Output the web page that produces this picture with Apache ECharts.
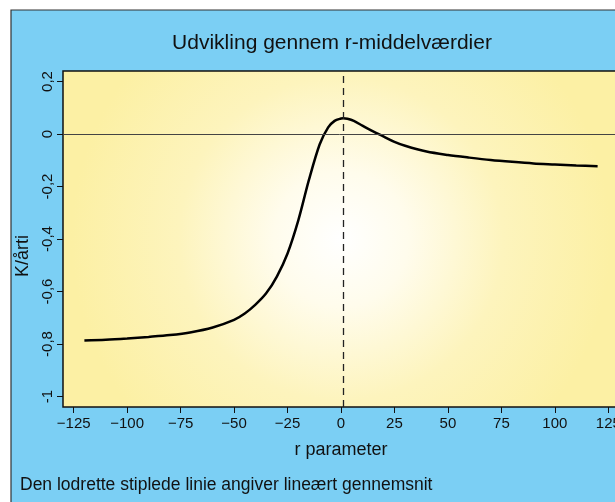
<!DOCTYPE html>
<html>
<head>
<meta charset="utf-8">
<style>
  html, body { margin: 0; padding: 0; background: #fff; }
  #chart { width: 615px; height: 502px; }
</style>
<script src="https://cdn.jsdelivr.net/npm/echarts@6/dist/echarts.min.js"></script>
</head>
<body>
<div id="chart"></div>
<script>
// r-values and K/årti
const rValues = [-120, -110, -100, -90, -80, -70, -60, -50, -45, -40, -35, -30, -25, -20, -15, -10, -6, -3, 0, 1, 3, 6, 10, 15, 20, 25, 30, 40, 50, 60, 70, 80, 90, 100, 110, 120]
const kValues = [-0.787, -0.784, -0.779, -0.773, -0.766, -0.755, -0.737, -0.708, -0.684, -0.65, -0.607, -0.543, -0.455, -0.33, -0.175, -0.04, 0.025, 0.05, 0.059, 0.06, 0.058, 0.05, 0.032, 0.01, -0.01, -0.03, -0.045, -0.067, -0.08, -0.09, -0.099, -0.106, -0.112, -0.116, -0.12, -0.123]
const xTicks = [-125, -100, -75, -50, -25, 0, 25, 50, 75, 100, 125]
const yTicks = [-1, -0.8, -0.6, -0.4, -0.2, 0, 0.2]
const meanR = 1

const font = 'Liberation Sans, Arial, sans-serif'
const chart = echarts.init(document.getElementById('chart'))

chart.setOption({
  animation: false,
  graphic: [
    {
      type: 'rect',
      z: -10,
      shape: { x: 11, y: 10, width: 620, height: 500 },
      style: { fill: '#7bcff4', stroke: '#333', lineWidth: 1.2 }
    },
    {
      type: 'text',
      left: 20,
      top: 476,
      style: {
        text: 'Den lodrette stiplede linie angiver lineært gennemsnit',
        font: '17.5px ' + font,
        fill: '#111'
      }
    }
  ],
  title: {
    text: 'Udvikling gennem r-middelværdier',
    left: 327,
    top: 28,
    textAlign: 'center',
    textStyle: { fontFamily: font, fontSize: 21, fontWeight: 'normal', color: '#111' }
  },
  grid: {
    left: 63,
    top: 71,
    right: -4,
    bottom: 95,
    containLabel: false,
    outerBoundsMode: 'none',
    show: true,
    borderColor: '#111',
    borderWidth: 1.5,
    backgroundColor: {
      type: 'radial',
      x: 0.5,
      y: 0.5,
      r: 0.8,
      colorStops: [
        { offset: 0, color: '#ffffff' },
        { offset: 0.25, color: '#fffcec' },
        { offset: 0.6, color: '#fdf4bd' },
        { offset: 1, color: '#fcf0a4' }
      ]
    }
  },
  xAxis: {
    type: 'value',
    min: -130,
    max: 130,
    name: 'r parameter',
    nameLocation: 'middle',
    nameGap: 34,
    nameTextStyle: { fontFamily: font, fontSize: 18, color: '#111' },
    axisLine: { show: false, onZero: false },
    splitLine: { show: false },
    axisTick: { show: true, customValues: xTicks, length: 6, lineStyle: { color: '#111', width: 1 } },
    axisLabel: {
      customValues: xTicks,
      margin: 9,
      fontFamily: font,
      fontSize: 15,
      color: '#111',
      formatter: v => String(v).replace('-', '\u2212')
    }
  },
  yAxis: {
    type: 'value',
    min: -1.04,
    max: 0.24,
    name: 'K/årti',
    nameLocation: 'middle',
    nameGap: 28,
    nameTextStyle: { fontFamily: font, fontSize: 18, color: '#111', padding: [0, 34, 0, 0] },
    axisLine: { show: false, onZero: false },
    splitLine: { show: false },
    axisTick: { show: true, customValues: yTicks, length: 6, lineStyle: { color: '#111', width: 1 } },
    axisLabel: {
      customValues: yTicks,
      rotate: 90,
      margin: 8,
      fontFamily: font,
      fontSize: 15,
      color: '#111',
      formatter: v => String(v).replace('.', ',')
    }
  },
  series: [
    {
      type: 'line',
      data: rValues.map((r, i) => [r, kValues[i]]),
      smooth: 0.3,
      showSymbol: false,
      lineStyle: { color: '#000', width: 2.5 },
      markLine: {
        silent: true,
        symbol: 'none',
        label: { show: false },
        data: [
          { yAxis: 0, lineStyle: { color: '#444', width: 1, type: 'solid' } },
          { xAxis: meanR, lineStyle: { color: '#222', width: 1.3, type: [7, 5] } }
        ]
      }
    }
  ]
})
</script>
</body>
</html>
